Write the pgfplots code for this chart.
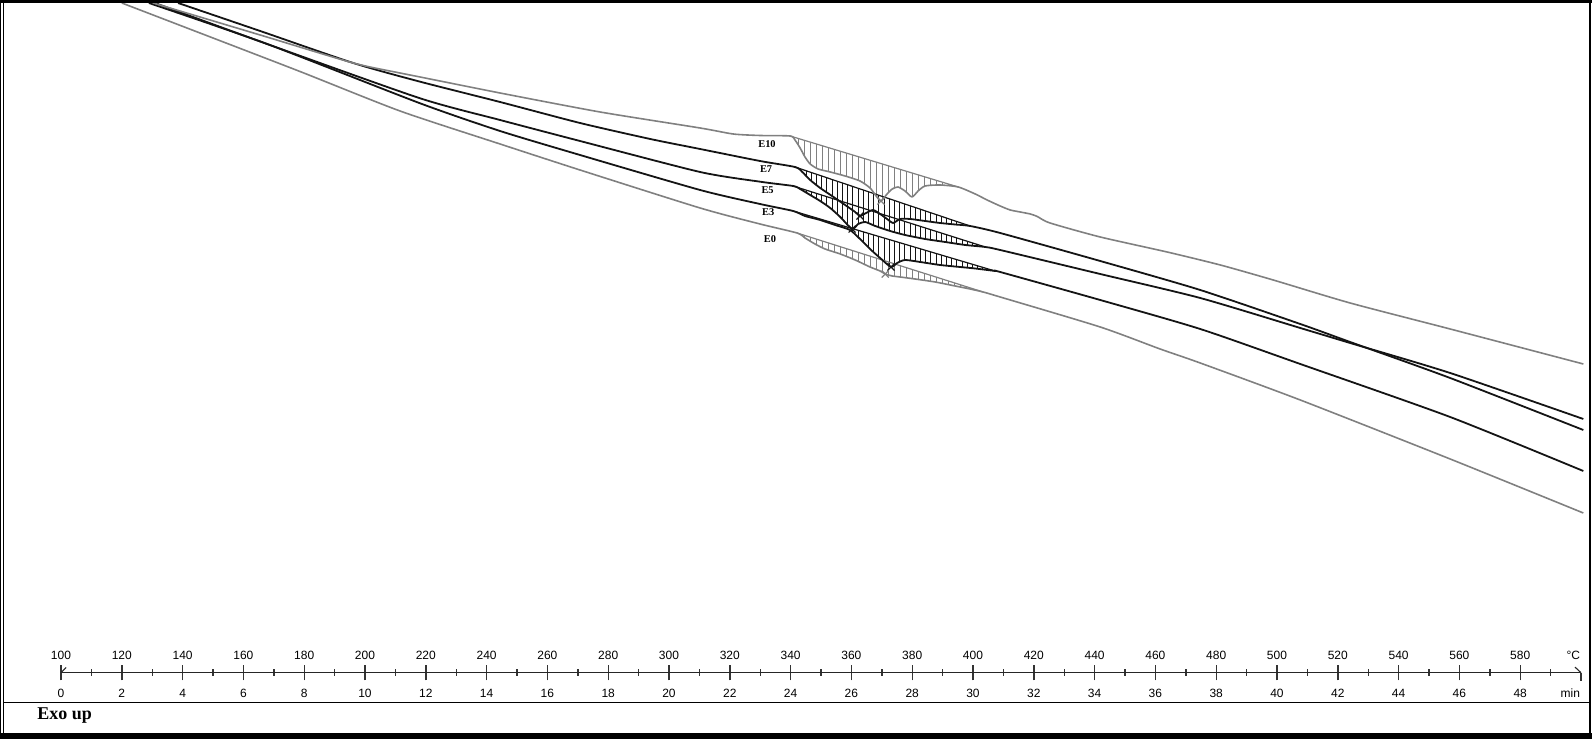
\documentclass[border=0pt]{standalone}
\usepackage{fontspec}
\setmainfont{Liberation Serif}
\newfontfamily\rulerfont{Liberation Sans}
\usepackage{pgfplots}
\pgfplotsset{compat=1.18}
\usepgfplotslibrary{fillbetween}
\usetikzlibrary{patterns.meta}
\definecolor{cgray}{RGB}{128,128,128}
\definecolor{cblack}{RGB}{20,20,20}
\begin{document}
\begin{tikzpicture}[x=1pt,y=1pt]
\begin{axis}[at={(0pt,0pt)},anchor=south west,scale only axis,width=796pt,height=369.5pt,
  xmin=79.934,xmax=603.553,ymin=0,ymax=739,y dir=reverse,hide axis,clip=false,
  every axis plot/.append style={line join=round}]
% ---- E0 (gray)
\addplot[cgray,line width=0.8pt,smooth,tension=0.4,name path=E0] coordinates {(120.0,3) (145.7,33) (178.6,71.5) (211.5,111) (244.4,144) (270.7,170) (310.2,208) (329.9,224) (342.1,233) (344.7,238) (348.0,244) (351.3,249) (356.3,254) (361.2,260) (366.1,267) (369.4,271) (371.1,274) (373.4,276) (376.0,277) (380.9,279) (387.5,282) (394.1,286) (399.0,289) (403.3,292) (408.9,297) (441.8,327) (461.5,349) (474.7,363) (507.6,400) (556.9,459) (600.7,513)};
\addplot[cgray,line width=0.6pt,name path=B0] coordinates {(342.1,233) (403.3,292)};
\addplot[draw=none,pattern={Lines[angle=90,distance=3pt,line width=0.4pt]},pattern color=cgray] fill between[of=E0 and B0,soft clip={domain=342.1:403.3}];
% ---- E3 (black)
\addplot[cblack,line width=0.9pt,smooth,tension=0.4,name path=E3] coordinates {(128.9,3) (167.8,44) (218.1,103.3) (244.4,131) (270.7,155) (310.2,190) (329.9,204) (340.8,211) (344.7,216) (349.7,220) (354.6,225) (359.5,230) (362.8,239) (366.1,249) (369.4,258) (373.0,267) (375.0,263) (377.6,260) (382.6,262) (389.1,265) (395.7,267) (400.7,268.5) (407.2,271) (408.9,272) (441.8,300) (474.7,329) (507.6,364) (556.9,417) (600.7,471)};
\addplot[cblack,line width=0.6pt,name path=B3] coordinates {(340.8,211) (407.2,271)};
\addplot[draw=none,pattern={Lines[angle=90,distance=2.6pt,line width=0.4pt]},pattern color=cblack] fill between[of=E3 and B3,soft clip={domain=340.8:407.2}];
% ---- E5 (black)
\addplot[cblack,line width=0.9pt,smooth,tension=0.4,name path=E5] coordinates {(130.9,3) (167.8,44) (218.1,98.3) (244.4,120) (270.7,141) (310.2,172) (329.9,181.7) (340.8,186) (343.1,189) (346.4,195) (349.7,201) (353.0,208) (356.3,217) (360.2,229) (362.2,224) (364.5,222) (367.8,226) (372.7,231) (377.6,235) (384.2,239) (390.8,242) (397.4,245) (404.0,247) (408.9,250) (441.8,274) (474.7,298) (507.6,328) (524.0,343) (556.9,373) (600.7,419)};
\addplot[cblack,line width=0.6pt,name path=B5] coordinates {(340.8,186) (404.0,247)};
\addplot[draw=none,pattern={Lines[angle=90,distance=2.6pt,line width=0.4pt]},pattern color=cblack] fill between[of=E5 and B5,soft clip={domain=340.8:404.0}];
% ---- E7 (black)
\addplot[cblack,line width=0.9pt,smooth,tension=0.4,name path=E7] coordinates {(138.5,3) (165.5,31) (196.1,63) (218.1,81.7) (244.4,102) (270.7,123) (293.8,139) (310.2,149) (329.9,161) (341.4,167) (343.8,172) (346.4,180) (349.7,188) (353.6,196) (357.9,205) (361.2,212) (362.8,216) (364.8,213) (367.1,210) (369.4,214) (371.7,219) (373.7,223) (376.0,219) (379.3,219) (384.2,221) (389.1,223) (394.1,224.5) (399.0,226) (408.9,233) (441.8,261) (474.7,290) (507.6,324) (524.0,342) (556.9,378) (600.7,430)};
\addplot[cblack,line width=0.6pt,name path=B7] coordinates {(341.4,167) (399.0,226)};
\addplot[draw=none,pattern={Lines[angle=90,distance=2.6pt,line width=0.4pt]},pattern color=cblack] fill between[of=E7 and B7,soft clip={domain=341.4:399.0}];
% ---- E10 (gray)
\addplot[cgray,line width=0.8pt,smooth,tension=0.4,name path=E10] coordinates {(130.3,3) (165.5,35) (196.1,63) (211.5,73) (218.1,77) (244.4,93) (277.3,112) (310.2,128) (321.1,134) (329.9,135.5) (339.8,136) (341.4,140) (343.1,148) (344.7,157) (346.4,164) (349.0,169) (353.0,172) (357.9,176) (362.8,181) (366.1,188) (368.1,196) (369.7,201) (371.7,194) (373.4,189) (375.3,187) (377.6,191) (379.9,197) (381.9,191) (384.2,186) (389.1,185) (395.1,187) (400.7,194) (404.6,200) (408.9,206) (412.2,210) (415.5,212) (418.8,214) (421.1,216.5) (425.3,223) (441.8,237) (463.8,252) (481.3,265) (498.7,280) (524.0,303) (556.9,329) (600.7,364)};
\addplot[cgray,line width=0.6pt,name path=B10] coordinates {(339.8,136) (395.1,187)};
\addplot[draw=none,pattern={Lines[angle=90,distance=3pt,line width=0.4pt]},pattern color=cgray] fill between[of=E10 and B10,soft clip={domain=339.8:395.1}];
% ---- peak markers
\addplot[only marks,mark=x,mark size=2.5pt,cblack,mark options={line width=0.6pt}] coordinates {(362.8,216) (360.2,229) (373.0,267)};
\addplot[only marks,mark=x,mark size=2.5pt,cgray,mark options={line width=0.6pt}] coordinates {(369.7,201) (371.1,274)};
% ---- curve labels
\node[font=\bfseries\fontsize{5.2}{6}\selectfont,inner sep=0] at (axis cs:332.2,144) {E10};
\node[font=\bfseries\fontsize{5.2}{6}\selectfont,inner sep=0] at (axis cs:331.9,169.3) {E7};
\node[font=\bfseries\fontsize{5.2}{6}\selectfont,inner sep=0] at (axis cs:332.4,190) {E5};
\node[font=\bfseries\fontsize{5.2}{6}\selectfont,inner sep=0] at (axis cs:332.6,211.7) {E3};
\node[font=\bfseries\fontsize{5.2}{6}\selectfont,inner sep=0] at (axis cs:333.2,239.3) {E0};
\end{axis}
% ---- ruler (temperature / time)
\begin{axis}[at={(30.5pt,33.15pt)},anchor=south west,scale only axis,width=760pt,height=10pt,
  xmin=100,xmax=600,ymin=0,ymax=1,
  axis x line=bottom,axis y line=none,
  x axis line style={-,line width=0.55pt,black!85},
  xtick={100,120,...,580},minor xtick={110,130,...,590},
  xticklabels={0,2,4,6,8,10,12,14,16,18,20,22,24,26,28,30,32,34,36,38,40,42,44,46,48},
  tick align=center,major tick length=7.8pt,minor tick length=3.2pt,
  tick style={black!80,line width=0.7pt},
  xticklabel style={font=\rulerfont\fontsize{6}{7}\selectfont,anchor=base,yshift=-8.3pt,inner sep=0pt},
  extra x ticks={100,120,...,580},
  extra x tick labels={100,120,140,160,180,200,220,240,260,280,300,320,340,360,380,400,420,440,460,480,500,520,540,560,580},
  extra x tick style={major tick length=0pt,xticklabel style={yshift=15.0pt}},
  clip=false]
\draw[black!85,line width=0.55pt] (axis cs:100,0) -- ++(2.6pt,2.6pt);
\draw[black!85,line width=0.55pt] (axis cs:600,0) -- ++(-3pt,2.8pt);
\draw[black!80,line width=0.7pt] (axis cs:600,0) -- ++(0pt,-4pt);
\node[anchor=base east,yshift=6.7pt,xshift=-0.3pt,inner sep=0,font=\rulerfont\fontsize{6}{7}\selectfont] at (axis cs:600,0) {°C};
\node[anchor=base east,yshift=-12.2pt,xshift=-0.3pt,inner sep=0,font=\rulerfont\fontsize{6}{7}\selectfont] at (axis cs:600,0) {min};
\end{axis}
% ---- frame
\fill[black] (0pt,368pt) rectangle (796pt,369.5pt);
\fill[black] (0pt,0pt) rectangle (796pt,3pt);
\fill[black] (0pt,0pt) rectangle (0.6pt,369.5pt);
\fill[black] (1.4pt,0pt) rectangle (1.9pt,369.5pt);
\fill[black] (794.4pt,0pt) rectangle (795.4pt,369.5pt);
\fill[black] (1.4pt,17.9pt) rectangle (795pt,18.4pt);
\node[anchor=base west,inner sep=0,font=\bfseries\fontsize{9}{10}\selectfont] at (18.5pt,9.5pt) {Exo up};
\pgfresetboundingbox
\path[use as bounding box] (0pt,0pt) rectangle (796pt,369.5pt);
\end{tikzpicture}
\end{document}
